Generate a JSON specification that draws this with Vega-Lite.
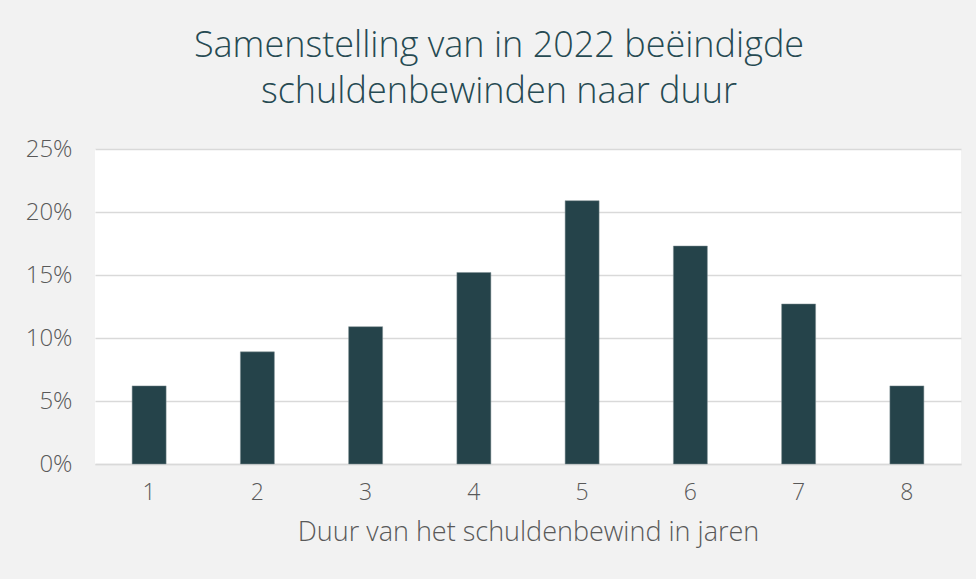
{
  "$schema": "https://vega.github.io/schema/vega-lite/v6.json",
  "autosize": "none",
  "width": 866,
  "height": 315,
  "padding": {"left": 95, "top": 149, "right": 15, "bottom": 115},
  "background": "#f2f2f2",
  "title": {
    "text": ["Samenstelling van in 2022 beëindigde", "schuldenbewinden naar duur"],
    "font": "Open Sans",
    "fontSize": 36,
    "fontWeight": 300,
    "color": "#264a52",
    "lineHeight": 46,
    "anchor": "middle",
    "dx": -29,
    "offset": 26
  },
  "data": {
    "values": [
      {"jaar": "1", "aandeel": 0.062},
      {"jaar": "2", "aandeel": 0.089},
      {"jaar": "3", "aandeel": 0.109},
      {"jaar": "4", "aandeel": 0.152},
      {"jaar": "5", "aandeel": 0.209},
      {"jaar": "6", "aandeel": 0.173},
      {"jaar": "7", "aandeel": 0.127},
      {"jaar": "8", "aandeel": 0.062}
    ]
  },
  "mark": {"type": "bar", "color": "#25434a", "stroke": "#7f8f93", "strokeWidth": 0.5},
  "encoding": {
    "x": {
      "field": "jaar",
      "type": "ordinal",
      "scale": {"paddingInner": 0.686, "paddingOuter": 0.343},
      "axis": {
        "title": "Duur van het schuldenbewind in jaren",
        "labelAngle": 0,
        "labelFont": "Open Sans",
        "labelFontWeight": 300,
        "labelFontSize": 23,
        "labelColor": "#595959",
        "labelPadding": 17,
        "ticks": false,
        "domainColor": "#d9d9d9",
        "domainWidth": 1.5,
        "titleFont": "Open Sans",
        "titleFontSize": 27,
        "titleFontWeight": 300,
        "titleColor": "#595959",
        "titlePadding": 15
      }
    },
    "y": {
      "field": "aandeel",
      "type": "quantitative",
      "scale": {"domain": [0, 0.25], "nice": false},
      "axis": {
        "title": null,
        "format": ".0%",
        "values": [0, 0.05, 0.1, 0.15, 0.2, 0.25],
        "domain": false,
        "ticks": false,
        "labelFont": "Open Sans",
        "labelFontWeight": 300,
        "labelFontSize": 24,
        "labelColor": "#595959",
        "labelPadding": 23,
        "gridColor": "#d9d9d9",
        "gridWidth": 1.5
      }
    }
  },
  "config": {
    "view": {"fill": "#ffffff", "stroke": null}
  }
}
